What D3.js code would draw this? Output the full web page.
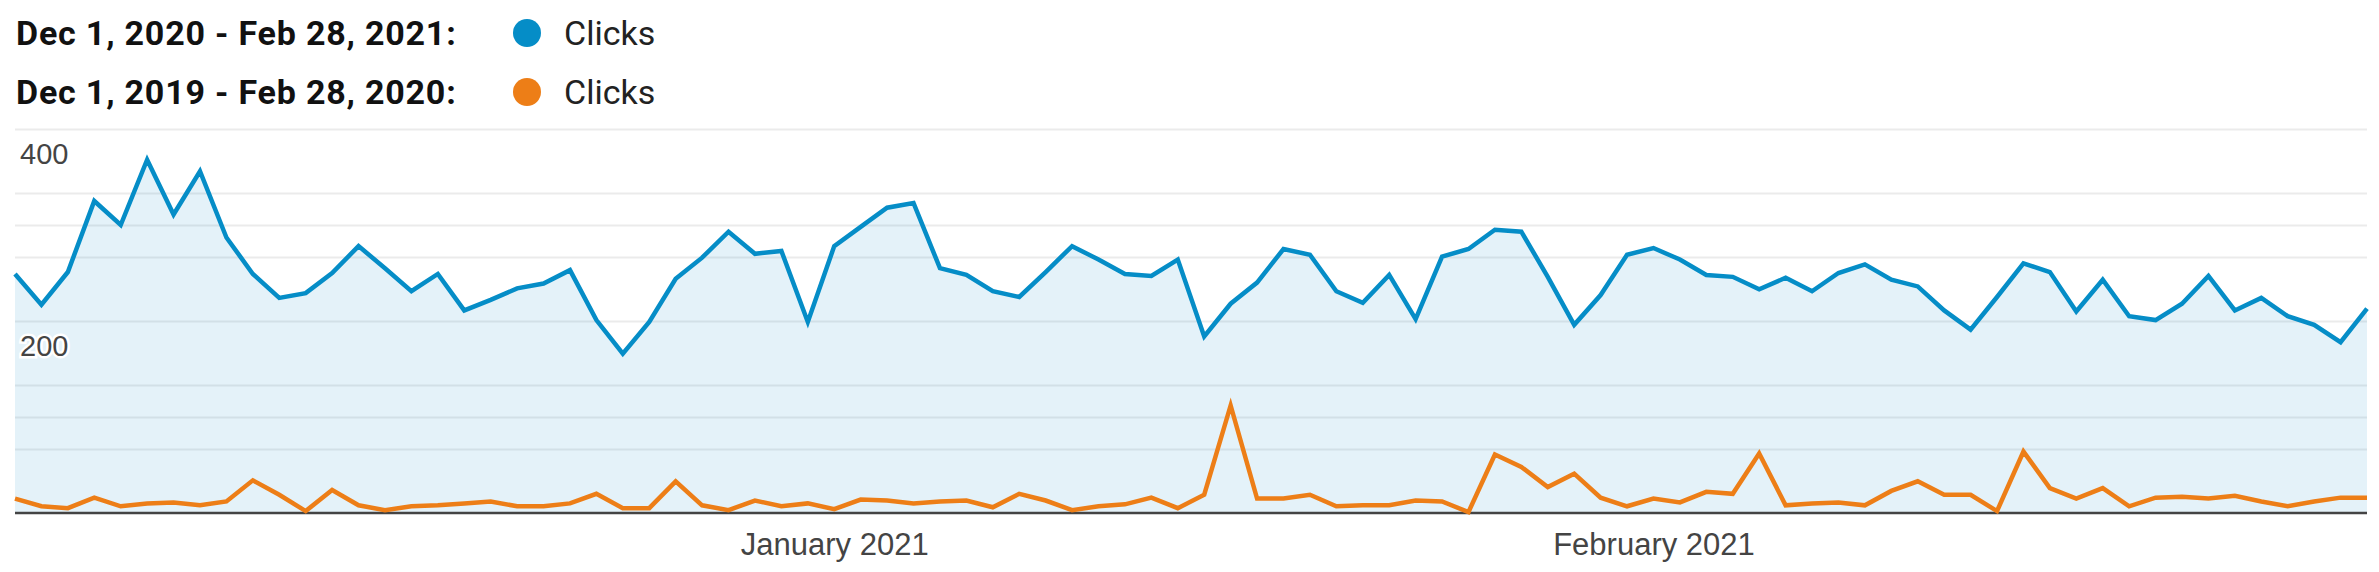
<!DOCTYPE html>
<meta charset="utf-8">
<style>
body { margin: 0; background: #fff; }
svg { display: block; font-family: Roboto, "Noto Sans", sans-serif; }
.grid line { stroke: #ebebeb; stroke-width: 2px; }
.grid path { display: none; }
.axis--x path, .axis--x line { display: none; }
.axis--x text { fill: #444; font-size: 31px; }
.axis--y path, .axis--y line { display: none; }
.axis--y text { fill: #444; font-size: 29px; stroke: #fff; stroke-width: 5px; paint-order: stroke; }
.legend-range { font-weight: bold; font-size: 34px; letter-spacing: 0.8px; fill: #111; }
.legend-label { font-size: 34px; fill: #222; }
</style>
<body>
<svg width="2379" height="572"></svg>
<script src="https://d3js.org/d3.v7.min.js"></script>
<script>

// daily clicks, Dec 1 2020 - Feb 28 2021
var current = [
  249, 217, 251, 325, 300, 368, 311, 356, 287, 249,
  224, 229, 250, 278, 255, 231, 249, 211, 222, 234,
  239, 253, 201, 166, 199, 244, 266, 293, 270, 273,
  199, 278, 298, 318, 323, 255, 248, 231, 225, 251,
  278, 264, 249, 247, 264, 184, 218, 240, 275, 269,
  231, 219, 248, 202, 267, 275, 295, 293, 246, 196,
  227, 269, 276, 264, 248, 246, 233, 245, 231, 250,
  259, 243, 236, 211, 191, 225, 260, 251, 210, 243,
  205, 201, 218, 247, 211, 224, 205, 196, 178, 213
];

// same days one year earlier, Dec 1 2019 - Feb 28 2020
var previous = [
  15, 7, 5, 16, 7, 10, 11, 8, 12, 34,
  19, 2, 24, 8, 3, 7, 8, 10, 12, 7,
  7, 10, 20, 5, 5, 33, 8, 3, 13, 7,
  10, 4, 14, 13, 10, 12, 13, 6, 20, 13,
  3, 7, 9, 16, 5, 19, 112, 15, 15, 19,
  7, 8, 8, 13, 12, 1, 61, 48, 27, 41,
  16, 7, 15, 11, 22, 20, 62, 8, 10, 11,
  8, 23, 33, 19, 19, 2, 64, 26, 15, 26,
  7, 16, 17, 15, 18, 12, 7, 12, 16, 16
];

var legendRanges = ["Dec 1, 2020 - Feb 28, 2021:", "Dec 1, 2019 - Feb 28, 2020:"];
var legendLabel = "Clicks";
var colors = ["#058dc7", "#ed7e17"];
var gridValues = [66.7, 100, 133.3, 200, 266.7, 300, 333.3, 400];
var labelValues = [200, 400];
var monthTicks = [new Date(2021, 0, 1), new Date(2021, 1, 1)];

var days = d3.timeDay.range(new Date(2020, 11, 1), new Date(2021, 2, 1));

var svg = d3.select("svg"),
    margin = {top: 129, right: 12, bottom: 59, left: 15},
    width = +svg.attr("width") - margin.left - margin.right,
    height = +svg.attr("height") - margin.top - margin.bottom;

var x = d3.scaleTime().domain([days[0], days[days.length - 1]]).range([0, width]),
    y = d3.scaleLinear().domain([0, 400]).range([height, 0]);

// legend
var legend = svg.append("g");
legendRanges.forEach(function(t, i) {
  var row = legend.append("g").attr("transform", "translate(0," + (45 + i * 59) + ")");
  row.append("text").attr("class", "legend-range").attr("x", 16).text(t);
  row.append("circle").attr("cx", 527).attr("cy", -12).attr("r", 14).attr("fill", colors[i]);
  row.append("text").attr("class", "legend-label").attr("x", 564).text(legendLabel);
});

var g = svg.append("g")
    .attr("transform", "translate(" + margin.left + "," + margin.top + ")");

g.append("g")
    .attr("class", "grid")
    .call(d3.axisLeft(y).tickValues(gridValues).tickSize(-width).tickFormat(""));

var area = d3.area()
    .x(function(d, i) { return x(days[i]); })
    .y0(height)
    .y1(function(d) { return y(d); });

var line = d3.line()
    .x(function(d, i) { return x(days[i]); })
    .y(function(d) { return y(d); });

g.append("path")
    .datum(current)
    .attr("fill", "rgba(5,141,199,0.11)")
    .attr("d", area);

// baseline
g.append("line")
    .attr("x1", 0).attr("x2", width)
    .attr("y1", y(0)).attr("y2", y(0))
    .attr("stroke", "#444").attr("stroke-width", 2.5);

[current, previous].forEach(function(s, i) {
  g.append("path")
      .datum(s)
      .attr("fill", "none")
      .attr("stroke", colors[i])
      .attr("stroke-width", 4.5)
      .attr("stroke-linejoin", "miter")
      .attr("d", line);
});

g.append("g")
    .attr("class", "axis axis--y")
    .call(d3.axisRight(y).tickValues(labelValues).tickSize(0).tickPadding(5))
  .selectAll("text")
    .attr("dy", "1.2em");

g.append("g")
    .attr("class", "axis axis--x")
    .attr("transform", "translate(0," + height + ")")
    .call(d3.axisBottom(x).tickValues(monthTicks).tickSize(0).tickPadding(20).tickFormat(d3.timeFormat("%B %Y")));

</script>
</body>
